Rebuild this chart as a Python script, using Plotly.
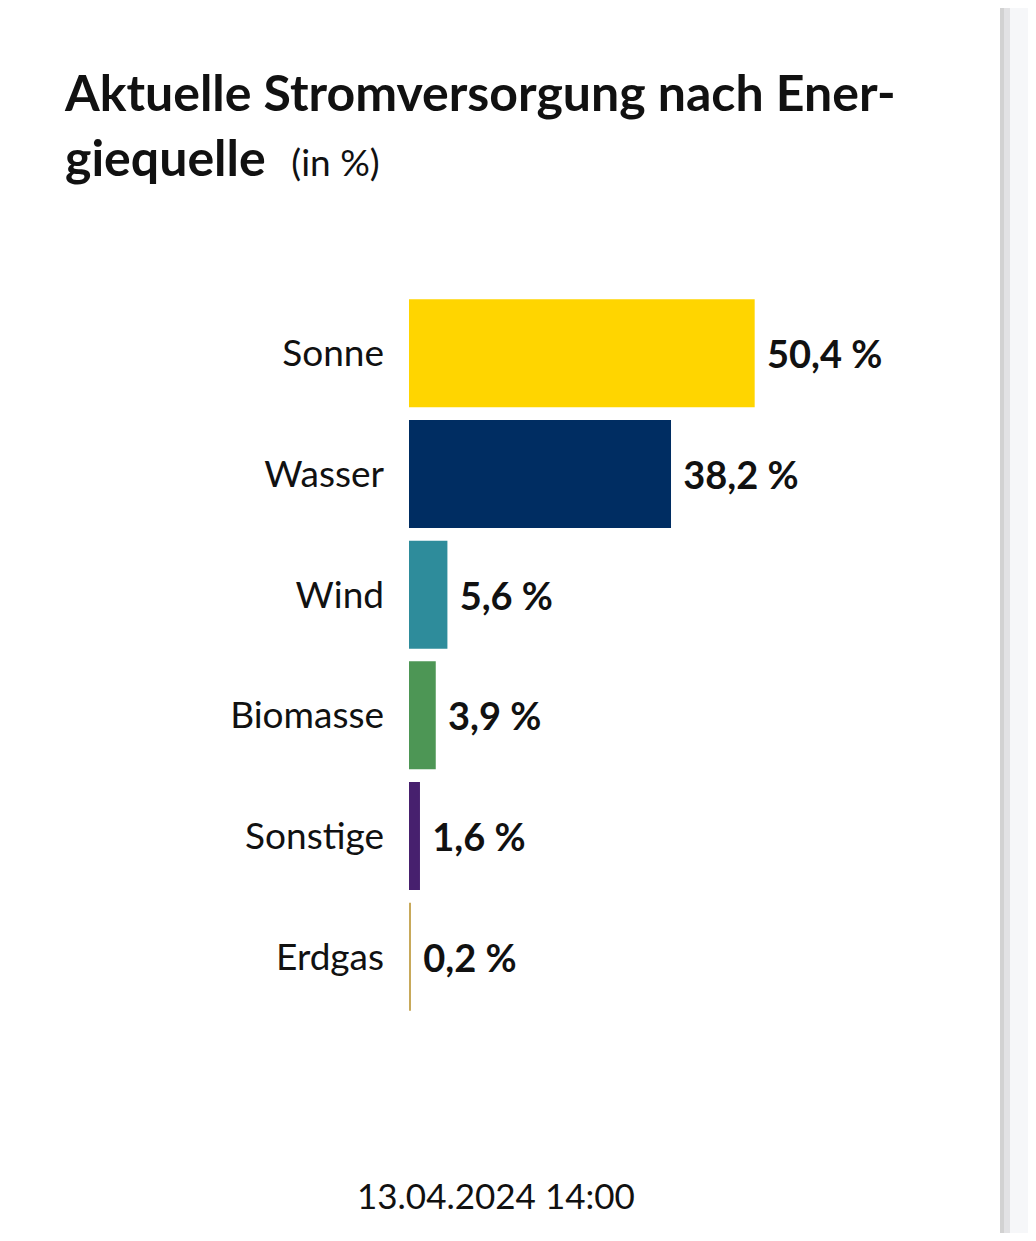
import plotly.graph_objects as go

# Daten
quellen = ["Sonne", "Wasser", "Wind", "Biomasse", "Sonstige", "Erdgas"]
anteile = [50.4, 38.2, 5.6, 3.9, 1.6, 0.2]
farben = ["#FFD500", "#002D62", "#2E8C9B", "#4D9655", "#47206E", "#C8A95A"]
zeitstempel = "13.04.2024 14:00"

# Seite hat 8px Rand -> Figur etwas kleiner
OFF = 8
W, H = 1020, 1225
L, T, B = 401, 285, 216
plot_w = 583
R = W - L - plot_w
plot_h = H - T - B
FONT = "Lato"


def px_x(px):
    return (px - OFF - L) / plot_w


def px_y(py):
    return (H - B - (py - OFF)) / plot_h


texte = ["\u00a0" + f"{v:.1f}".replace(".", ",") + " %" for v in anteile]

fig = go.Figure(go.Bar(
    x=anteile,
    y=quellen,
    orientation="h",
    marker=dict(color=farben, line=dict(width=0)),
    text=texte,
    textposition="outside",
    textfont=dict(family=FONT, size=38, color="#111111", weight=700),
    cliponaxis=False,
    hoverinfo="skip",
))

fig.update_layout(
    width=W, height=H,
    margin=dict(l=L, r=R, t=T, b=B),
    paper_bgcolor="white",
    plot_bgcolor="white",
    showlegend=False,
    bargap=0.105,
    font=dict(family=FONT, color="#111111"),
    title=dict(
        text="<b>Aktuelle Stromversorgung nach Ener-<br>giequelle</b>  "
             "<span style='font-size:37px'>(in %)</span>",
        x=(65 - OFF) / W, xanchor="left", xref="container",
        y=1 - 103 / H, yanchor="top", yref="container",
        font=dict(family=FONT, size=50, color="#111111"),
    ),
    xaxis=dict(visible=False, range=[0, 85]),
    yaxis=dict(
        autorange="reversed",
        showgrid=False, showline=False, zeroline=False,
        ticks="", ticklabelstandoff=24,
        tickfont=dict(family=FONT, size=37, color="#111111"),
    ),
)

fig.add_annotation(
    text=zeitstempel, xref="paper", yref="paper",
    x=px_x(496), y=px_y(1195), xanchor="center", yanchor="middle",
    showarrow=False, font=dict(family=FONT, size=35, color="#111111"),
)

# grauer Rand rechts
fig.add_shape(type="rect", xref="paper", yref="paper", layer="below",
              x0=px_x(1000), x1=px_x(1004), y0=px_y(H + 20), y1=px_y(0),
              fillcolor="#d2d2d2", line=dict(width=0))
fig.add_shape(type="rect", xref="paper", yref="paper", layer="below",
              x0=px_x(1004), x1=px_x(1010), y0=px_y(H + 20), y1=px_y(0),
              fillcolor="#e2e2e4", line=dict(width=0))
fig.add_shape(type="rect", xref="paper", yref="paper", layer="below",
              x0=px_x(1010), x1=px_x(1040), y0=px_y(H + 20), y1=px_y(0),
              fillcolor="#f6f7f9", line=dict(width=0))

fig.write_html("out.html")
